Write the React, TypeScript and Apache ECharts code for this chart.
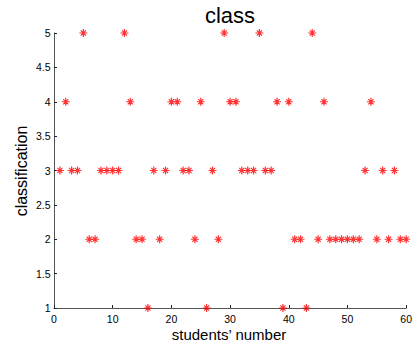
import React, { useEffect, useRef } from "react";
import * as echarts from "echarts";

const studentNumbers = [
  1, 2, 3, 4, 5, 6, 7, 8, 9, 10, 11, 12, 13, 14, 15, 16, 17, 18, 19, 20,
  21, 22, 23, 24, 25, 26, 27, 28, 29, 30, 31, 32, 33, 34, 35, 36, 37, 38, 39, 40,
  41, 42, 43, 44, 45, 46, 47, 48, 49, 50, 51, 52, 53, 54, 55, 56, 57, 58, 59, 60,
];

const classValues = [
  3, 4, 3, 3, 5, 2, 2, 3, 3, 3, 3, 5, 4, 2, 2, 1, 3, 2, 3, 4,
  4, 3, 3, 2, 4, 1, 3, 2, 5, 4, 4, 3, 3, 3, 5, 3, 3, 4, 1, 4,
  2, 2, 1, 5, 2, 4, 2, 2, 2, 2, 2, 2, 3, 4, 2, 3, 2, 3, 2, 2,
];

const titleText = "class";
const xLabelText = "students\u2019 number";
const yLabelText = "classification";

const FONT = "'Liberation Sans', Arial, sans-serif";
const STAR = "path://M5,0L5,10M0,5L10,5M1.8,1.8L8.2,8.2M8.2,1.8L1.8,8.2";

export default function App() {
  const ref = useRef<HTMLDivElement>(null);

  useEffect(() => {
    document.body.style.margin = "0";
    const chart = echarts.init(ref.current!, null, { renderer: "svg" });
    const data = studentNumbers.map((s, i) => [s, classValues[i]]);
    const axisLine = { show: true, lineStyle: { color: "#555", width: 1 } };
    const axisTick = { show: true, inside: true, length: 3, lineStyle: { color: "#222" } };
    chart.setOption({
      animation: false,
      backgroundColor: "#fff",
      grid: { left: 54, right: 5.5, top: 33, bottom: 39, containLabel: false },
      xAxis: {
        type: "value",
        min: 0,
        max: 60,
        interval: 10,
        axisLine,
        axisTick,
        axisLabel: { color: "#000", fontFamily: FONT, fontSize: 10.5, margin: 5 },
        splitLine: { show: false },
      },
      yAxis: {
        type: "value",
        min: 1,
        max: 5,
        interval: 0.5,
        axisLine,
        axisTick,
        axisLabel: { color: "#000", fontFamily: FONT, fontSize: 10.5, margin: 3.5 },
        splitLine: { show: false },
      },
      series: [
        {
          type: "scatter",
          data,
          symbol: STAR,
          symbolSize: 8,
          clip: false,
          itemStyle: { color: "#ff0000", borderColor: "#ff0000", borderWidth: 1.2 },
        },
      ],
      graphic: [
        {
          type: "text",
          x: 230,
          y: 15,
          style: {
            text: titleText,
            fill: "#000",
            font: `22px ${FONT}`,
            align: "center",
            verticalAlign: "middle",
          },
        },
        {
          type: "text",
          x: 229,
          y: 334,
          style: {
            text: xLabelText,
            fill: "#000",
            font: `15px ${FONT}`,
            align: "center",
            verticalAlign: "middle",
          },
        },
        {
          type: "text",
          x: 21,
          y: 171,
          rotation: Math.PI / 2,
          style: {
            text: yLabelText,
            fill: "#000",
            font: `16px ${FONT}`,
            align: "center",
            verticalAlign: "middle",
          },
        },
      ],
    });
    return () => chart.dispose();
  }, []);

  return <div ref={ref} style={{ width: 415, height: 347 }} />;
}
